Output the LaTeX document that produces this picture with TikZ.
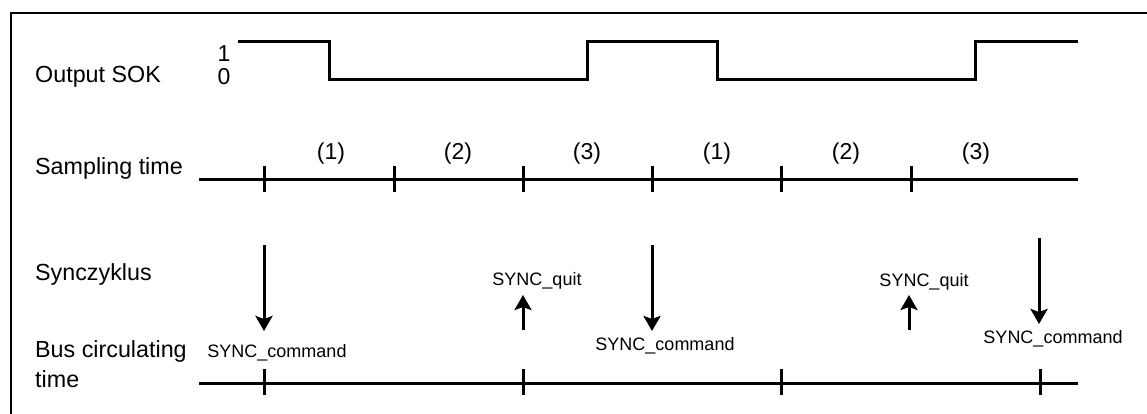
\documentclass[tikz,border=0pt]{standalone}
\usepackage{fontspec}
\setmainfont{Liberation Sans}
\usetikzlibrary{arrows.meta}
\begin{document}
\begin{tikzpicture}[x=1pt,y=-1pt,
  lbl/.style={inner sep=0pt,anchor=base west,font=\fontsize{23.3}{28}\selectfont},
  num/.style={inner sep=0pt,anchor=base,font=\fontsize{23}{27}\selectfont},
  small/.style={inner sep=0pt,anchor=base,font=\fontsize{18}{22}\selectfont},
  sig/.style={line width=3pt,line join=miter},
  axis/.style={line width=3pt},
  tick/.style={line width=3pt},
  frame/.style={line width=2.4pt},
  arr/.style={line width=3pt,-{Stealth[width=17pt,length=15pt,inset=3pt]}}]
\useasboundingbox (0,0) rectangle (1147,414);
% frame (only top and left visible)
\draw[frame] (11,414) -- (11,13) -- (1147,13);
% row labels
\node[lbl] (lsok) at (35,83) {Output SOK};
\node[lbl] (lsamp) at (35,175) {Sampling time};
\node[lbl] (lsync) at (35,280) {Synczyklus};
\node[lbl] (lbus) at (35,357) {Bus circulating};
\node[lbl] (ltime) at (35,387) {time};
\node[num] (one) at (224,62) {1};
\node[num] (zero) at (224,85) {0};
% output SOK signal
\draw[sig] (238,42) -- (329,42) -- (329,80) -- (587,80) -- (587,42) -- (717,42) -- (717,80) -- (975,80) -- (975,42) -- (1078,42);
% sampling time axis
\coordinate (sa) at (199,179);
\coordinate (sb) at (1078,179);
\draw[axis] (sa) -- (sb);
\foreach \x in {264,394,523,652,781,911}
  \draw[tick] (\x,166) -- (\x,192);
\node[num] (p1) at (331,160) {(1)};
\node[num] (p2) at (458,160) {(2)};
\node[num] (p3) at (587,160) {(3)};
\node[num] (p4) at (717,160) {(1)};
\node[num] (p5) at (846,160) {(2)};
\node[num] (p6) at (976,160) {(3)};
% bus axis
\coordinate (ba) at (199,383);
\coordinate (bb) at (1078,383);
\draw[axis] (ba) -- (bb);
\foreach \x in {264,523,781,1040}
  \draw[tick] (\x,369) -- (\x,395);
% sync arrows
\coordinate (d1s) at (264,245); \coordinate (d1e) at (264,331);
\coordinate (d2s) at (652,245); \coordinate (d2e) at (652,331);
\coordinate (d3s) at (1039,238); \coordinate (d3e) at (1039,324);
\coordinate (u1s) at (523,330); \coordinate (u1e) at (523,295);
\coordinate (u2s) at (909,330); \coordinate (u2e) at (909,295);
\draw[arr] (d1s) -- (d1e);
\draw[arr] (d2s) -- (d2e);
\draw[arr] (d3s) -- (d3e);
\draw[arr] (u1s) -- (u1e);
\draw[arr] (u2s) -- (u2e);
\node[small] (c1) at (277,357) {SYNC\_command};
\node[small] (c2) at (665,350) {SYNC\_command};
\node[small] (c3) at (1053,343) {SYNC\_command};
\node[small] (q1) at (537,285) {SYNC\_quit};
\node[small] (q2) at (924,286) {SYNC\_quit};
\end{tikzpicture}
\end{document}
